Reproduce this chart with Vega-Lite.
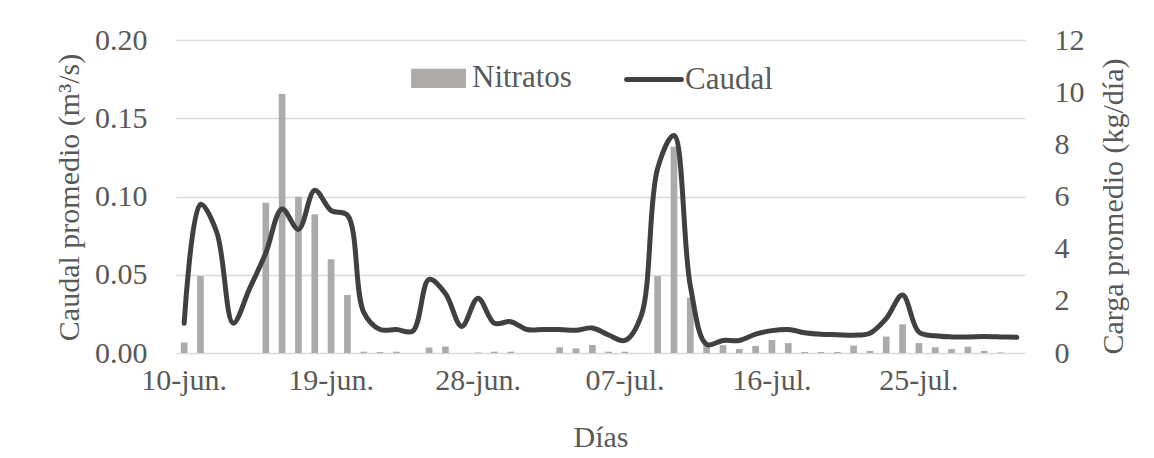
{
  "$schema": "https://vega.github.io/schema/vega-lite/v6.json",
  "width": 849,
  "height": 313,
  "autosize": {"type": "none"},
  "padding": {"left": 176, "top": 40, "right": 129, "bottom": 105},
  "background": "white",
  "data": {"values": [
    {"fecha": "10-jun.", "caudal": 0.019, "nitratos": 0.40},
    {"fecha": "11-jun.", "caudal": 0.095, "nitratos": 2.95},
    {"fecha": "12-jun.", "caudal": 0.077, "nitratos": null},
    {"fecha": "13-jun.", "caudal": 0.019, "nitratos": null},
    {"fecha": "14-jun.", "caudal": 0.041, "nitratos": null},
    {"fecha": "15-jun.", "caudal": 0.064, "nitratos": 5.76},
    {"fecha": "16-jun.", "caudal": 0.092, "nitratos": 9.93},
    {"fecha": "17-jun.", "caudal": 0.079, "nitratos": 5.99},
    {"fecha": "18-jun.", "caudal": 0.104, "nitratos": 5.32},
    {"fecha": "19-jun.", "caudal": 0.091, "nitratos": 3.59},
    {"fecha": "20-jun.", "caudal": 0.088, "nitratos": 2.22},
    {"fecha": "21-jun.", "caudal": 0.026, "nitratos": 0.05},
    {"fecha": "22-jun.", "caudal": 0.015, "nitratos": 0.04},
    {"fecha": "23-jun.", "caudal": 0.015, "nitratos": 0.05},
    {"fecha": "24-jun.", "caudal": 0.014, "nitratos": null},
    {"fecha": "25-jun.", "caudal": 0.047, "nitratos": 0.21},
    {"fecha": "26-jun.", "caudal": 0.038, "nitratos": 0.25},
    {"fecha": "27-jun.", "caudal": 0.017, "nitratos": null},
    {"fecha": "28-jun.", "caudal": 0.035, "nitratos": 0.02},
    {"fecha": "29-jun.", "caudal": 0.019, "nitratos": 0.05},
    {"fecha": "30-jun.", "caudal": 0.020, "nitratos": 0.05},
    {"fecha": "01-jul.", "caudal": 0.015, "nitratos": null},
    {"fecha": "02-jul.", "caudal": 0.015, "nitratos": null},
    {"fecha": "03-jul.", "caudal": 0.015, "nitratos": 0.22},
    {"fecha": "04-jul.", "caudal": 0.0145, "nitratos": 0.18},
    {"fecha": "05-jul.", "caudal": 0.016, "nitratos": 0.31},
    {"fecha": "06-jul.", "caudal": 0.0115, "nitratos": 0.05},
    {"fecha": "07-jul.", "caudal": 0.008, "nitratos": 0.05},
    {"fecha": "08-jul.", "caudal": 0.024, "nitratos": null},
    {"fecha": "09-jul.", "caudal": 0.118, "nitratos": 2.95},
    {"fecha": "10-jul.", "caudal": 0.139, "nitratos": 7.91},
    {"fecha": "11-jul.", "caudal": 0.043, "nitratos": 2.12},
    {"fecha": "12-jul.", "caudal": 0.0055, "nitratos": 0.37},
    {"fecha": "13-jul.", "caudal": 0.008, "nitratos": 0.30},
    {"fecha": "14-jul.", "caudal": 0.008, "nitratos": 0.15},
    {"fecha": "15-jul.", "caudal": 0.012, "nitratos": 0.27},
    {"fecha": "16-jul.", "caudal": 0.0143, "nitratos": 0.50},
    {"fecha": "17-jul.", "caudal": 0.015, "nitratos": 0.38},
    {"fecha": "18-jul.", "caudal": 0.013, "nitratos": 0.04},
    {"fecha": "19-jul.", "caudal": 0.012, "nitratos": 0.04},
    {"fecha": "20-jul.", "caudal": 0.0117, "nitratos": 0.04},
    {"fecha": "21-jul.", "caudal": 0.0114, "nitratos": 0.28},
    {"fecha": "22-jul.", "caudal": 0.0126, "nitratos": 0.08},
    {"fecha": "23-jul.", "caudal": 0.022, "nitratos": 0.63},
    {"fecha": "24-jul.", "caudal": 0.037, "nitratos": 1.10},
    {"fecha": "25-jul.", "caudal": 0.0133, "nitratos": 0.38},
    {"fecha": "26-jul.", "caudal": 0.011, "nitratos": 0.22},
    {"fecha": "27-jul.", "caudal": 0.0103, "nitratos": 0.15},
    {"fecha": "28-jul.", "caudal": 0.0103, "nitratos": 0.24},
    {"fecha": "29-jul.", "caudal": 0.0105, "nitratos": 0.08},
    {"fecha": "30-jul.", "caudal": 0.0103, "nitratos": 0.02},
    {"fecha": "31-jul.", "caudal": 0.010, "nitratos": null}
  ]},
  "encoding": {
    "x": {
      "field": "fecha",
      "type": "ordinal",
      "sort": null,
      "scale": {
        "domain": ["10-jun.","11-jun.","12-jun.","13-jun.","14-jun.","15-jun.","16-jun.","17-jun.","18-jun.","19-jun.","20-jun.","21-jun.","22-jun.","23-jun.","24-jun.","25-jun.","26-jun.","27-jun.","28-jun.","29-jun.","30-jun.","01-jul.","02-jul.","03-jul.","04-jul.","05-jul.","06-jul.","07-jul.","08-jul.","09-jul.","10-jul.","11-jul.","12-jul.","13-jul.","14-jul.","15-jul.","16-jul.","17-jul.","18-jul.","19-jul.","20-jul.","21-jul.","22-jul.","23-jul.","24-jul.","25-jul.","26-jul.","27-jul.","28-jul.","29-jul.","30-jul.","31-jul."],
        "paddingInner": 0.59,
        "paddingOuter": 0.295
      },
      "axis": {
        "values": ["10-jun.","19-jun.","28-jun.","07-jul.","16-jul.","25-jul."],
        "labelAngle": 0,
        "labelPadding": 12,
        "grid": false,
        "title": "Días",
        "titleX": 424.5,
        "titleY": 84,
        "titleBaseline": "middle",
        "titleAlign": "center"
      }
    }
  },
  "layer": [
    {
      "mark": {"type": "bar"},
      "encoding": {
        "y": {
          "field": "nitratos",
          "type": "quantitative",
          "scale": {"domain": [0, 12], "nice": false, "zero": true},
          "axis": {
            "orient": "right",
            "values": [0, 2, 4, 6, 8, 10, 12],
            "grid": false,
            "labelPadding": 29,
            "title": "Carga promedio (kg/día)",
            "titleAngle": -90,
            "titleX": 88,
            "titleY": 166,
            "titleBaseline": "middle",
            "titleAlign": "center"
          }
        },
        "color": {
          "datum": "Nitratos",
          "type": "nominal",
          "scale": {"domain": ["Nitratos", "Caudal"], "range": ["#AEAAAA", "#404040"]},
          "legend": {
            "orient": "none",
            "legendX": 235,
            "legendY": 8,
            "direction": "horizontal",
            "title": null,
            "symbolSize": 3000,
            "labelOffset": 1,
            "columnPadding": 44,
            "padding": 0,
            "labelFont": "Liberation Serif",
            "labelFontSize": 31,
            "labelColor": "#595959",
            "encode": {
              "labels": {
                "update": {
                  "font": {"value": "Liberation Serif"}
                }
              },
              "symbols": {
                "update": {
                  "shape": {"signal": "datum.value === 'Caudal' ? 'M-1,0H1' : 'M-1,-0.26H0.82V0.26H-1Z'"},
                  "fill": {"signal": "datum.value === 'Caudal' ? 'transparent' : '#AEAAAA'"},
                  "stroke": {"signal": "datum.value === 'Caudal' ? '#404040' : 'transparent'"},
                  "strokeWidth": {"value": 5},
                  "strokeCap": {"value": "round"},
                  "opacity": {"value": 1}
                }
              }
            }
          }
        }
      }
    },
    {
      "mark": {"type": "line", "interpolate": "catmull-rom", "strokeWidth": 5, "strokeCap": "round", "strokeJoin": "round"},
      "encoding": {
        "y": {
          "field": "caudal",
          "type": "quantitative",
          "scale": {"domain": [0, 0.2], "nice": false},
          "axis": {
            "orient": "left",
            "values": [0, 0.05, 0.1, 0.15, 0.2],
            "format": ".2f",
            "grid": true,
            "gridColor": "#D9D9D9",
            "gridWidth": 1.5,
            "labelPadding": 29,
            "title": "Caudal promedio (m³/s)",
            "titleAngle": -90,
            "titleX": -107,
            "titleY": 157,
            "titleBaseline": "middle",
            "titleAlign": "center"
          }
        },
        "color": {
          "datum": "Caudal",
          "type": "nominal",
          "scale": {"domain": ["Nitratos", "Caudal"], "range": ["#AEAAAA", "#404040"]}
        }
      }
    }
  ],
  "resolve": {"scale": {"y": "independent"}},
  "config": {
    "view": {"stroke": null},
    "font": "Liberation Serif",
    "axis": {
      "domain": false,
      "ticks": false,
      "labelFont": "Liberation Serif",
      "titleFont": "Liberation Serif",
      "labelFontSize": 30,
      "titleFontSize": 30,
      "titleFontWeight": "normal",
      "labelColor": "#595959",
      "titleColor": "#595959"
    },
    "legend": {
      "labelFont": "Liberation Serif",
      "labelFontSize": 31,
      "labelColor": "#595959"
    }
  }
}
